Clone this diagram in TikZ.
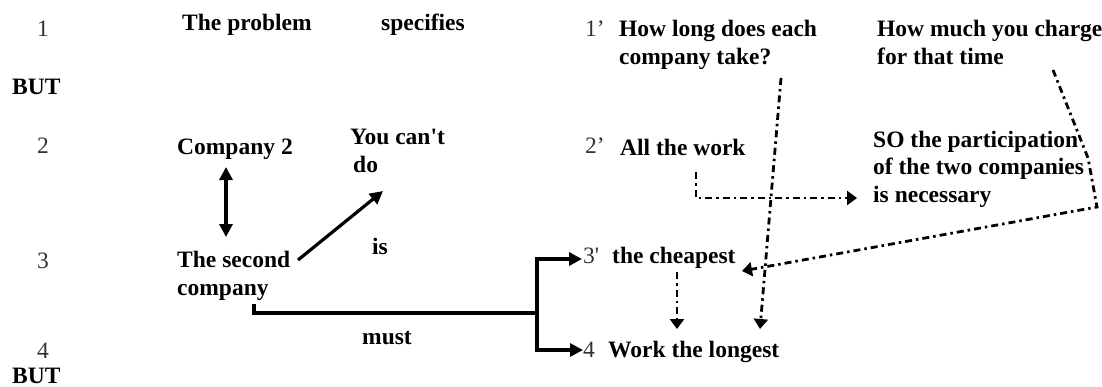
\documentclass[tikz,border=0pt]{standalone}
\usepackage{fontspec}
\setmainfont{Liberation Serif}
\newfontfamily\rawserif{Liberation Serif}
\newcommand{\sq}{{\rawserif'}}
\usetikzlibrary{arrows.meta}
\begin{document}
\begin{tikzpicture}[x=1pt,y=-1pt,
  lbl/.style={font=\fontsize{23.5}{27.5}\selectfont\bfseries, inner sep=0pt, anchor=base west, align=left},
  num/.style={font=\fontsize{23.5}{27.5}\selectfont, text=black!80, inner sep=0pt, anchor=base west},
  solidarrow/.style={line width=3.2pt, -{Triangle[length=13pt,width=13pt]}},
  solidline/.style={line width=3.2pt},
  dd/.style={line width=2.8pt, dash pattern=on 7pt off 4pt on 2.5pt off 4pt, -{Triangle[length=10pt,width=14pt]}}]
\useasboundingbox (0,0) rectangle (1102,386);
% left column numbers
\node[num] (n1) at (37,36) {1};
\node[lbl] (but1) at (12,94) {BUT};
\node[num] (n2) at (37,153) {2};
\node[num] (n3) at (37,268) {3};
\node[num] (n4) at (37,358) {4};
\node[lbl] (but2) at (12,383) {BUT};
% left texts
\node[lbl] (prob) at (182,30) {The problem};
\node[lbl] (spec) at (381,30) {specifies};
\node[lbl] (c2) at (177,154) {Company 2};
\node[lbl] (cant) at (350,172) {You can\sq t\\\hspace{3pt}do};
\node[lbl] (sc) at (177,295) {The second\\company};
\node[lbl] (is) at (372,254) {is};
\node[lbl] (must) at (362,344) {must};
% right column
\node[num] (n1p) at (585,36) {1’};
\node[lbl] (hl) at (619,64) {How long does each\\company take?};
\node[lbl] (hm) at (877,64) {How much you charge\\for that time};
\node[num] (n2p) at (585,153) {2’};
\node[lbl] (aw) at (620,155) {All the work};
\node[lbl] (so) at (873,202) {SO the participation\\of the two companies\\is necessary};
\node[num] (n3p) at (583,263) {3\sq};
\node[lbl] (ch) at (612,263) {the cheapest};
\node[num] (n4p) at (583,357) {4};
\node[lbl] (wl) at (608,357) {Work the longest};
% connector points
\coordinate (c2b) at (226,167);
\coordinate (sct) at (226,237);
\coordinate (scr) at (298,260);
\coordinate (cantb) at (383,191);
\coordinate (scb) at (254,304);
\coordinate (brk) at (537,313);
\coordinate (to3) at (582,259);
\coordinate (to4) at (583,350);
\coordinate (awb) at (696,172);
\coordinate (sol) at (857,198);
\coordinate (hlb) at (781,78);
\coordinate (wlt2) at (760,329);
\coordinate (chb) at (677,272);
\coordinate (wlt1) at (677,329);
\coordinate (hmb) at (1053,70);
\coordinate (chr) at (742,271);
% solid connectors
\draw[line width=3.2pt, {Triangle[length=13pt,width=13pt]}-{Triangle[length=13pt,width=13pt]}] (c2b) -- (sct);
\draw[solidarrow] (scr) -- (cantb);
\draw[solidline] (scb) |- (brk);
\draw[solidarrow] (brk) |- (to3);
\draw[solidarrow] (brk) |- (to4);
% dash-dot connectors
\draw[dd] (awb) |- (sol);
\draw[dd] (hlb) -- (wlt2);
\draw[dd] (chb) -- (wlt1);
\draw[dd] (hmb) -- (1088,158) -- (1097,207) -- (chr);
\end{tikzpicture}
\end{document}
